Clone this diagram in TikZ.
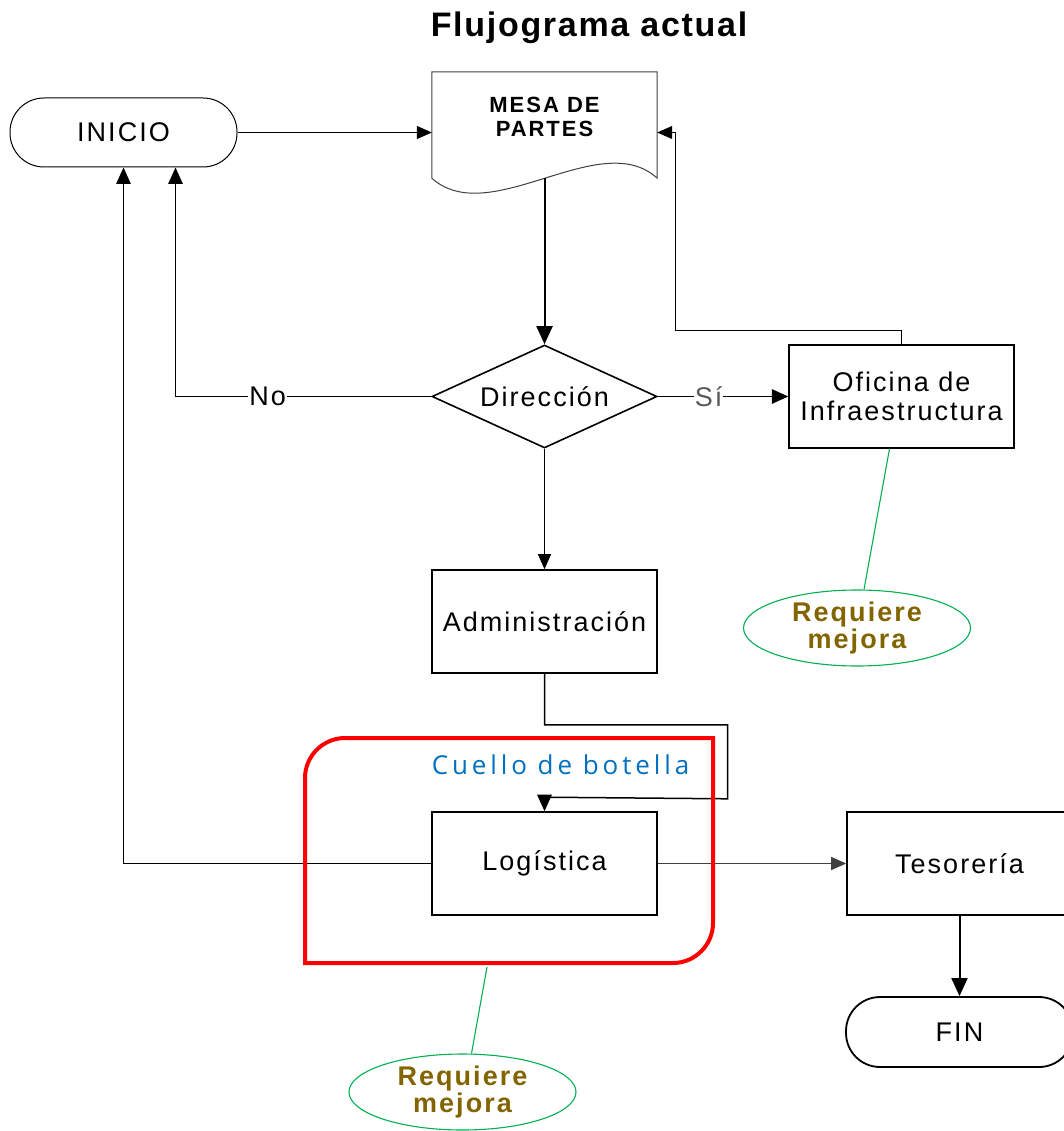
\documentclass[tikz,border=0pt]{standalone}
\usepackage{fontspec}
\setmainfont{Liberation Sans}
\newfontfamily\flujofont[LetterSpace=7.5]{Liberation Sans}
\newfontfamily\mesafont[LetterSpace=9]{Liberation Sans}
\newfontfamily\titlefont[LetterSpace=5]{Liberation Sans}
\newfontfamily\cuellofont[LetterSpace=15]{Open Sans}
\usepackage{xcolor}
\usetikzlibrary{arrows.meta,shapes.geometric,calc}
\definecolor{mejora}{RGB}{130,100,0}
\definecolor{verde}{RGB}{0,176,80}
\definecolor{azul}{RGB}{0,112,192}

\begin{document}
\begin{tikzpicture}[x=1pt,y=-1pt]
\tikzset{every node/.style={font=\flujofont\fontsize{27}{29}\selectfont}}
\tikzset{proceso/.style={draw,line width=1.6pt,minimum width=225pt,minimum height=103pt,inner sep=0pt,align=center}}
\tikzset{terminal/.style={draw,rounded corners=34pt,minimum width=227pt,minimum height=69pt,inner sep=0pt}}
\tikzset{decision/.style={draw,diamond,aspect=2.18,line width=1.6pt,minimum width=225pt,minimum height=103pt,inner sep=0pt}}
\tikzset{nota/.style={draw=verde,ellipse,line width=1.1pt,minimum width=227pt,minimum height=76pt,inner sep=0pt,align=center,text=mejora,font=\flujofont\bfseries\fontsize{27}{27}\selectfont}}
\tikzset{>={Triangle[length=12pt 3,width=10pt 3]}}

\useasboundingbox (0,0) rectangle (1063,1131);

\node[font=\titlefont\bfseries\fontsize{34}{38}\selectfont] (titulo) at (589,28) {Flujograma actual};
\node[terminal,line width=1pt] (ini) at (123.5,132.5) {INICIO};
\node[align=center,minimum width=225pt,minimum height=90pt,inner sep=0pt,font=\mesafont\bfseries\fontsize{22}{23.5}\selectfont] (mesa) at (544.5,117) {MESA DE\\PARTES};
\draw[line width=1pt,draw=black!75] (mesa.north west) -- ([yshift=-16pt]mesa.south west) .. controls +(58,52) and +(-57,-52) .. ([yshift=-16pt]mesa.south east) -- (mesa.north east) -- cycle;
\node[decision] (dir) at (544.5,396.5) {Dirección};
\node[proceso,line width=1.4pt] (ofi) at (901.5,396.5) {Oficina de\\Infraestructura};
\node[proceso] (adm) at (544.5,621.5) {Administración};
\node[proceso] (log) at (544.5,863.5) {Logística};
\node[proceso] (tes) at (959.5,863.5) {Tesorería};
\node[terminal,line width=1.8pt,minimum height=70pt] (fin) at (959.5,1032) {FIN};
\node[nota] (req1) at (857,628) {Requiere\\mejora};
\node[nota] (req2) at (462.5,1092) {Requiere\\mejora};

\draw[line width=1pt,->] (ini.east) -- (mesa.west |- ini.east);
\draw[line width=1pt,->] (ofi.north) -- ++(0,-14) -| ($(mesa.east |- ini.east)+(18,0)$) -- (mesa.east |- ini.east);
\draw[line width=2pt,->] ([yshift=-16pt]mesa.south) -- (dir.north);
\draw[line width=1.5pt,->] (dir.west) -| node[pos=0.32,fill=white,inner sep=1pt]{No} ($(ini.south)+(52,0)$);
\draw[line width=1.5pt,->] (dir.east) -- node[pos=0.39,fill=white,inner sep=1pt,text=black!65]{Sí} (ofi.west);
\draw[line width=1pt,->] (dir.south) -- (adm.north);
\draw[line width=1.5pt,->] (adm.south) -- ++(0,51) -| ++(183,74) -- ($(log.north)+(0,-14)$) -- (log.north);
\draw[line width=1.5pt,->] (log.west) -| (ini.south);
\draw[line width=1pt,draw=black!75,->] (log.east) -- (tes.west);
\draw[line width=2pt,->] (tes.south) -- (fin.north);

\draw[red,line width=4pt] (305,963) -- (305,778) .. controls (305,756) and (323,738) .. (345,738) -- (713,738) -- (713,923) .. controls (713,945) and (695,963) .. (673,963) -- cycle;
\node[text=azul,font=\cuellofont\fontsize{26}{30}\selectfont] (cuello) at (560.5,765) {Cuello de botella};

\draw[verde,line width=1.1pt] ($(ofi.south)+(-12,0)$) -- ($(req1.north)+(7,0)$);
\coordinate (cb) at (487,967);
\draw[verde,line width=1.1pt] (cb) -- ($(req2.north)+(9,0)$);

\end{tikzpicture}
\end{document}
